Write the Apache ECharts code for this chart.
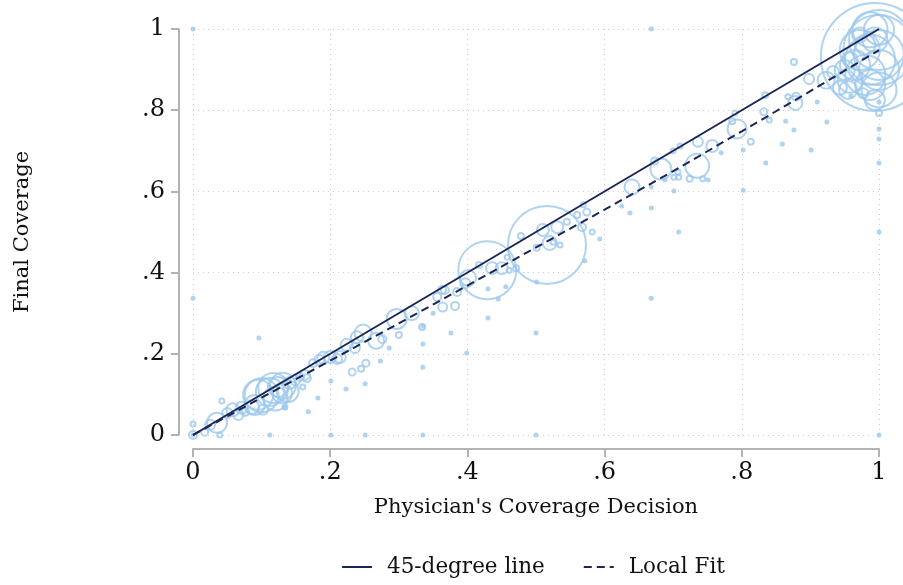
<!DOCTYPE html>
<html>
<head>
<meta charset="utf-8">
<script src="https://cdn.jsdelivr.net/npm/echarts@6/dist/echarts.min.js"></script>
<style>html,body{margin:0;padding:0;background:#fff}#c{width:903px;height:585px}</style>
</head>
<body>
<div id="c"></div>
<script>
// Tick labels
const xTicks = ['0', '.2', '.4', '.6', '.8', '1'];
const yTicks = ['0', '.2', '.4', '.6', '.8', '1'];

// 45-degree line
const lineX = [0, 1];
const lineY = [0, 1];

// Local fit
const fitX = [0, 0.1, 0.2, 0.3, 0.4, 0.5, 0.6, 0.7, 0.8, 0.9, 1];
const fitY = [0, 0.092, 0.183, 0.275, 0.368, 0.462, 0.555, 0.65, 0.748, 0.847, 0.948];

// Weighted observations: [physician decision, final coverage, marker diameter]
const circles = [
  [0, 0, 8], [0.035, 0.030, 20], [0.017, 0.007, 7], [0, 0.027, 5], [0.039, 0, 5],
  [0.042, 0.084, 5], [0.058, 0.062, 13], [0.071, 0.067, 12], [0.050, 0.054, 10],
  [0.086, 0.069, 14], [0.102, 0.062, 10], [0.095, 0.099, 30], [0.112, 0.106, 28],
  [0.124, 0.118, 20], [0.130, 0.103, 20], [0.134, 0.069, 5], [0.160, 0.118, 5],
  [0.100, 0.098, 34], [0.117, 0.116, 30], [0.131, 0.121, 26], [0.120, 0.090, 24],
  [0.090, 0.074, 20], [0.138, 0.108, 22],
  [0.025, 0.025, 10], [0.066, 0.049, 10], [0.076, 0.057, 8], [0.141, 0.128, 12],
  [0.149, 0.135, 10], [0.156, 0.143, 8], [0.163, 0.148, 10], [0.175, 0.177, 8],
  [0.184, 0.185, 10], [0.190, 0.190, 12], [0.200, 0.192, 12], [0.210, 0.187, 10],
  [0.214, 0.192, 12], [0.166, 0.140, 8], [0.232, 0.155, 7], [0.245, 0.163, 6],
  [0.252, 0.177, 7], [0.267, 0.232, 16], [0.248, 0.251, 17], [0.239, 0.241, 12],
  [0.300, 0.246, 6], [0.297, 0.286, 20], [0.319, 0.300, 14], [0.334, 0.266, 6],
  [0.364, 0.315, 9], [0.382, 0.318, 8], [0.356, 0.340, 8], [0.367, 0.357, 8],
  [0.276, 0.236, 8], [0.224, 0.222, 12], [0.236, 0.214, 10],
  [0.363, 0.357, 8], [0.385, 0.352, 8], [0.401, 0.387, 16], [0.397, 0.374, 10],
  [0.417, 0.419, 6], [0.436, 0.411, 12], [0.450, 0.411, 12], [0.458, 0.438, 5],
  [0.471, 0.411, 6], [0.461, 0.406, 5], [0.429, 0.406, 58], [0.516, 0.468, 78],
  [0.478, 0.490, 6], [0.501, 0.461, 6], [0.510, 0.505, 12], [0.520, 0.473, 14],
  [0.531, 0.512, 12], [0.525, 0.475, 5], [0.535, 0.468, 5], [0.545, 0.525, 6],
  [0.560, 0.542, 6], [0.574, 0.549, 7], [0.567, 0.512, 8], [0.582, 0.500, 5],
  [0.569, 0.567, 5], [0.640, 0.611, 15], [0.682, 0.655, 21], [0.735, 0.663, 24],
  [0.793, 0.754, 19], [0.757, 0.712, 12], [0.736, 0.722, 10], [0.724, 0.631, 6],
  [0.701, 0.635, 5], [0.708, 0.635, 5], [0.743, 0.631, 5], [0.707, 0.648, 5],
  [0.673, 0.675, 7], [0.700, 0.700, 5], [0.710, 0.712, 5], [0.786, 0.773, 6],
  [0.790, 0.793, 5], [0.832, 0.796, 7], [0.840, 0.776, 5], [0.813, 0.722, 6],
  [0.878, 0.818, 14], [0.867, 0.833, 5], [0.834, 0.837, 6], [0.876, 0.919, 6],
  [0.898, 0.877, 10], [0.923, 0.874, 17], [0.933, 0.894, 12], [0.879, 0.833, 8],
  [0.977, 0.842, 10], [0.943, 0.855, 14], [1, 0.793, 6],
  [0.994, 0.931, 108], [1, 0.973, 60], [0.999, 0.948, 70], [0.987, 0.924, 50],
  [0.972, 0.948, 40], [0.980, 0.887, 40], [0.987, 0.998, 35], [1, 0.998, 30],
  [0.965, 0.911, 30], [0.958, 0.874, 25], [0.987, 0.862, 30], [1, 0.899, 40],
  [1, 0.936, 50], [0.994, 0.973, 25], [0.980, 0.961, 20], [0.972, 0.985, 15],
  [0.950, 0.899, 20], [0.958, 0.924, 15], [0.955, 0.850, 18], [1, 0.850, 35],
  [0.994, 0.825, 20]
];

// Single observations (small filled dots): [physician decision, final coverage]
const dots = [
  [0, 1], [0, 0.337], [0, 0], [0.112, 0], [0.201, 0], [0.251, 0], [0.335, 0], [0.5, 0], [1, 0],
  [0.096, 0.239], [0.134, 0.067], [0.168, 0.057], [0.182, 0.091], [0.201, 0.133],
  [0.223, 0.113], [0.251, 0.126], [0.335, 0.167], [0.335, 0.224], [0.335, 0.268],
  [0.376, 0.251], [0.350, 0.300], [0.273, 0.182], [0.286, 0.214], [0.430, 0.360],
  [0.445, 0.335], [0.430, 0.288], [0.456, 0.365], [0.501, 0.377], [0.571, 0.429],
  [0.593, 0.483], [0.625, 0.564], [0.637, 0.547], [0.668, 0.611], [0.668, 0.559],
  [0.701, 0.601], [0.688, 0.628], [0.751, 0.628], [0.770, 0.695], [0.802, 0.702],
  [0.802, 0.603], [0.835, 0.670], [0.859, 0.717], [0.876, 0.751], [0.864, 0.773],
  [0.901, 0.702], [0.924, 0.771], [0.910, 0.820], [0.959, 0.835], [1, 0.820],
  [1, 0.754], [1, 0.729], [1, 0.670], [1, 0.5], [0.668, 1], [0.668, 0.337],
  [0.5, 0.251], [0.708, 0.5], [0.399, 0.202]
];

const FONT = 'DejaVu Serif';
const CIRCLE = '#9cc8ec';
const NAVY = '#1b2658';
const AXIS = '#b3b3b3';
const fmt = (labels) => (v) => labels[Math.round(v / 0.2)];

const axisCommon = {
  type: 'value', min: 0, max: 1, interval: 0.2, offset: 14,
  axisLine: { show: true, onZero: false, lineStyle: { color: AXIS, width: 2, opacity: 1 } },
  axisTick: { show: true, inside: false, length: 8, lineStyle: { color: AXIS, width: 2, opacity: 1 } },
  splitLine: { show: true, lineStyle: { color: '#cccccc', type: [1, 4], width: 1 } }
};

const chart = echarts.init(document.getElementById('c'), null, { renderer: 'canvas' });
chart.setOption({
  animation: false,
  backgroundColor: '#fff',
  grid: { left: 193, right: 24, top: 29, bottom: 150, containLabel: false },
  xAxis: Object.assign({}, axisCommon, {
    position: 'bottom',
    name: "Physician's Coverage Decision", nameLocation: 'middle', nameGap: 48,
    nameTextStyle: { fontFamily: FONT, fontSize: 21, color: '#111' },
    axisLabel: { formatter: fmt(xTicks), fontFamily: FONT, fontSize: 24, color: '#111', margin: 12 }
  }),
  yAxis: Object.assign({}, axisCommon, {
    position: 'left',
    name: 'Final Coverage', nameLocation: 'middle', nameGap: 146,
    nameTextStyle: { fontFamily: FONT, fontSize: 21, color: '#111' },
    axisLabel: { formatter: fmt(yTicks), fontFamily: FONT, fontSize: 24, color: '#111', margin: 14 }
  }),
  legend: {
    bottom: 2, left: 336, itemGap: 38, itemWidth: 30, itemHeight: 14,
    data: ['45-degree line', 'Local Fit'],
    itemStyle: { opacity: 0 },
    textStyle: { fontFamily: FONT, fontSize: 21.5, color: '#111', padding: [0, 0, 0, 10] }
  },
  series: [
    {
      name: 'obs', type: 'scatter', clip: false, symbol: 'circle',
      data: circles.map(p => [p[0], p[1], p[2]]),
      symbolSize: (v) => v[2],
      itemStyle: { color: 'rgba(255,255,255,0)', borderColor: CIRCLE, borderWidth: 2 },
      emphasis: { disabled: true }, z: 2
    },
    {
      name: 'single', type: 'scatter', clip: false, symbol: 'circle', symbolSize: 5,
      data: dots,
      itemStyle: { color: CIRCLE },
      emphasis: { disabled: true }, z: 2
    },
    {
      name: '45-degree line', type: 'line', symbol: 'none',
      data: lineX.map((x, i) => [x, lineY[i]]),
      lineStyle: { color: NAVY, width: 2 }, itemStyle: { color: NAVY }, z: 3
    },
    {
      name: 'Local Fit', type: 'line', symbol: 'none',
      data: fitX.map((x, i) => [x, fitY[i]]),
      lineStyle: { color: NAVY, width: 2, type: [8, 5] }, itemStyle: { color: NAVY }, z: 3
    }
  ]
});
</script>
</body>
</html>
